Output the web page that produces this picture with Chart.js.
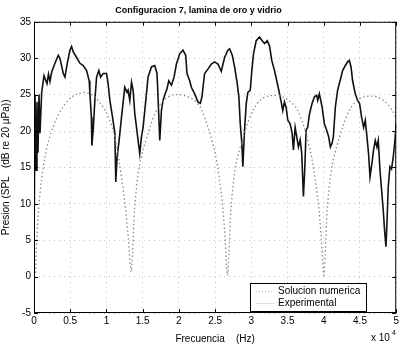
<!DOCTYPE html>
<html>
<head>
<meta charset="utf-8">
<script src="https://cdn.jsdelivr.net/npm/chart.js@4"></script>
<style>
  html, body { margin: 0; padding: 0; background: #fff; }
  #wrap { width: 401px; height: 345px; }
</style>
</head>
<body>
<div id="wrap"><canvas id="chart" width="401" height="345"></canvas></div>
<script>
// frequencies in Hz, levels in dB
var numFreq = [200,400,700,1000,1500,2000,3000,4000,5000,6000,7000,8000,9000,10000,11000,11800,12500,13000,13400,
  13600,13900,14600,16000,17000,18000,19000,20000,21000,22000,23000,24000,25000,25900,26300,26700,
  26900,27200,27900,29300,30300,31300,32300,33300,34300,35300,36300,37300,38300,39200,39600,40000,
  40200,40500,41200,42600,43600,44600,45600,46600,47600,48600,49600,50000]
var numSpl = [0.5,5.5,10,13,16.3,18.6,21.5,23.3,24.5,25.1,25.3,25.0,24.0,22.5,19.8,15.5,10.5,5.5,0.7,
  3,9.5,15.5,20.5,23,24.3,24.9,25.0,24.8,24.3,23.2,20.5,17,11,6.5,0.2,
  3,9.5,15.5,20.5,23,24.3,24.8,24.9,24.7,24.1,23,20.5,16.5,10.5,6,0.2,
  3,9.5,15.5,20.5,23,24.2,24.7,24.8,24.6,23.9,22.6,21.8]

var expFreq = [0,140,280,410,550,690,830,1060,1380,1790,
  2000,2200,2440,2890,3350,3580,4040,4270,4590,4960,
  5190,5410,5880,6340,6790,7260,7620,7710,7920,7990,
  8170,8400,8640,8950,9190,9550,10010,10230,10470,10840,
  11160,11290,11470,11750,12080,12530,12850,12990,13220,13460,
  13680,13910,14150,14370,14600,14830,15060,15290,15520,15740,
  16210,16670,16980,17120,17360,17590,17810,18040,18360,18600,
  18970,19330,19660,20110,20560,20940,21120,21490,21720,22180,
  22630,22960,23180,23550,24010,24480,24930,25390,25850,26310,
  26760,27000,27370,27690,28000,28280,28470,28690,28830,29060,
  29300,29520,29850,30070,30300,30670,31130,31500,31820,32190,
  32510,32820,33200,33510,33790,34120,34340,34570,34810,35030,
  35360,35630,35810,36050,36270,36500,36740,36960,37190,37370,
  37560,37780,38020,38390,38710,39020,39160,39390,39770,40080,
  40400,40680,40910,41140,41320,41600,41910,42250,42600,42980,
  43290,43530,43760,43980,44350,44670,44940,45220,45500,45730,
  45960,46180,46380,46650,46870,47110,47340,47520,47760,47980,
  48210,48390,48580,48720,48900,49130,49350,49590,49820,50000]
var expSpl = [3,25,14.6,24,17,25,19.7,25.3,27.6,26.5,
  27.8,26.8,28.1,29.3,30.4,30.0,27.9,27.4,29.3,31.1,
  31.6,30.9,30.1,29.3,29.0,28.3,26.9,25.3,21.9,18.0,
  20.1,24.2,27.4,28.3,27.4,27.9,27.9,26.5,24.2,21.9,
  19.7,13.0,16.4,18.7,21.9,26.0,25.3,25.6,24.2,26.7,
  25.6,22.4,20.5,18.7,16.9,19.2,20.5,22.8,25.1,27.4,
  28.8,29.0,27.9,24.7,18.7,22.8,24.2,24.9,25.8,26.9,
  26.3,27.4,29.2,30.6,31.1,30.4,27.9,26.9,26.0,25.1,
  24.0,23.8,24.7,27.9,28.5,29.2,29.5,29.2,28.2,30.1,
  31.1,31.3,30.4,28.8,26.9,24.7,21.0,18.3,15.1,20.1,
  23.8,25.3,25.6,28.3,30.6,32.4,32.9,32.4,32.0,32.4,
  31.7,29.7,28.3,26.9,25.6,24.0,22.8,24.0,23.2,21.5,
  21.0,19.7,17.4,20.5,19.2,17.8,18.8,16.9,11.0,14.6,
  20.1,20.5,22.3,23.8,24.7,24.9,24.2,25.1,23.3,21.0,
  20.1,19.2,17.8,18.3,19.2,23.3,25.6,26.9,28.3,29.0,
  29.5,29.7,28.8,26.9,25.1,24.2,23.8,21.9,20.5,21.5,
  19.2,16.9,13.7,15.6,17.4,18.7,17.8,18.7,14.6,11.9,
  9.1,6.4,4.1,7.3,12.3,15.1,14.8,16.4,18.7,21.0]

var seriesLabels = ["Solucion numerica", "Experimental"]
var xTicks = [0, 5000, 10000, 15000, 20000, 25000, 30000, 35000, 40000, 45000, 50000]
var yTicks = [-5, 0, 5, 10, 15, 20, 25, 30, 35]

function toPoints(xs, ys) {
    var pts = []
    for (var i = 0; i < xs.length; i++) pts.push({x: xs[i], y: ys[i]})
    return pts
}

var FONT = "'Liberation Sans', Arial, sans-serif"

// box around the axes with inward ticks, the in-plot legend and the x 10^4 exponent
var extras = {
    id: 'extras',
    afterDatasetsDraw: function(chart) {
        var ctx = chart.ctx, a = chart.chartArea
        var sx = chart.scales.x, sy = chart.scales.y
        ctx.save()
        ctx.strokeStyle = '#000'
        ctx.lineWidth = 1
        ctx.strokeRect(a.left + 0.5, a.top + 0.5, a.right - a.left - 1, a.bottom - a.top - 1)
        ctx.beginPath()
        xTicks.forEach(function(v) {
            var px = Math.round(sx.getPixelForValue(v)) + 0.5
            ctx.moveTo(px, a.bottom); ctx.lineTo(px, a.bottom - 4)
            ctx.moveTo(px, a.top); ctx.lineTo(px, a.top + 4)
        })
        yTicks.forEach(function(v) {
            var py = Math.round(sy.getPixelForValue(v)) + 0.5
            ctx.moveTo(a.left, py); ctx.lineTo(a.left + 4, py)
            ctx.moveTo(a.right, py); ctx.lineTo(a.right - 4, py)
        })
        ctx.stroke()

        // legend box
        var bx = 250, by = 283, bw = 116, bh = 28
        ctx.fillStyle = '#fff'
        ctx.fillRect(bx, by, bw, bh)
        ctx.strokeRect(bx + 0.5, by + 0.5, bw, bh)
        ctx.font = "10px " + FONT
        ctx.fillStyle = '#000'
        ctx.textBaseline = 'middle'
        ctx.fillText(seriesLabels[0], 278, by + 8)
        ctx.fillText(seriesLabels[1], 278, by + 20)
        ctx.lineWidth = 1
        ctx.strokeStyle = '#bbb'
        ctx.setLineDash([1, 2])
        ctx.beginPath(); ctx.moveTo(256, by + 8.5); ctx.lineTo(274, by + 8.5); ctx.stroke()
        ctx.setLineDash([])
        ctx.strokeStyle = '#ddd'
        ctx.beginPath(); ctx.moveTo(256, by + 20.5); ctx.lineTo(274, by + 20.5); ctx.stroke()

        // exponent
        ctx.fillStyle = '#000'
        ctx.font = "10px " + FONT
        ctx.textBaseline = 'alphabetic'
        ctx.fillText('x 10', 371, 341)
        ctx.font = "7px " + FONT
        ctx.fillText('4', 392, 335)
        ctx.restore()
    }
}

var myChart = new Chart(document.getElementById("chart"), {
    type: 'line',
    data: {
        datasets: [{
            label: seriesLabels[0],
            data: toPoints(numFreq, numSpl),
            borderColor: '#8a8a8a',
            borderWidth: 1.3,
            borderDash: [1.5, 2.5],
            pointRadius: 0,
            fill: false,
            tension: 0.3
        }, {
            label: seriesLabels[1],
            data: toPoints(expFreq, expSpl),
            borderColor: '#111',
            borderWidth: 1.6,
            pointRadius: 0,
            fill: false,
            tension: 0
        }]
    },
    options: {
        responsive: false,
        animation: false,
        layout: { padding: { left: 0, right: 4, top: 0, bottom: 0 } },
        plugins: {
            legend: { display: false },
            tooltip: { enabled: false },
            title: {
                display: true,
                text: 'Configuracion 7, lamina de oro y vidrio',
                color: '#000',
                font: { family: FONT, size: 9, weight: 'bold' },
                padding: { top: 5, bottom: 6 }
            }
        },
        scales: {
            x: {
                type: 'linear',
                min: 0,
                max: 50000,
                afterBuildTicks: function(axis) { axis.ticks = xTicks.map(function(v) { return {value: v} }) },
                ticks: {
                    color: '#000',
                    font: { family: FONT, size: 10 },
                    padding: 2,
                    maxRotation: 0,
                    callback: function(v) { return String(v / 10000) }
                },
                grid: { color: '#c4c4c4', drawTicks: false, lineWidth: 1 },
                border: { display: false, dash: [1, 4] },
                title: {
                    display: true,
                    text: 'Frecuencia    (Hz)',
                    color: '#000',
                    font: { family: FONT, size: 10 },
                    padding: { top: 0, bottom: 0 }
                },
                afterFit: function(axis) { axis.height = 32 }
            },
            y: {
                min: -5,
                max: 35,
                afterBuildTicks: function(axis) { axis.ticks = yTicks.map(function(v) { return {value: v} }) },
                ticks: {
                    color: '#000',
                    font: { family: FONT, size: 10 },
                    padding: 3
                },
                grid: { color: '#c4c4c4', drawTicks: false, lineWidth: 1 },
                border: { display: false, dash: [1, 4] },
                title: {
                    display: true,
                    text: 'Presion (SPL   (dB re 20 \u03bcPa))',
                    color: '#000',
                    font: { family: FONT, size: 10 },
                    padding: { top: 0, bottom: 1 }
                },
                afterFit: function(axis) { axis.width = 34 }
            }
        }
    },
    plugins: [extras]
});
</script>
</body>
</html>
